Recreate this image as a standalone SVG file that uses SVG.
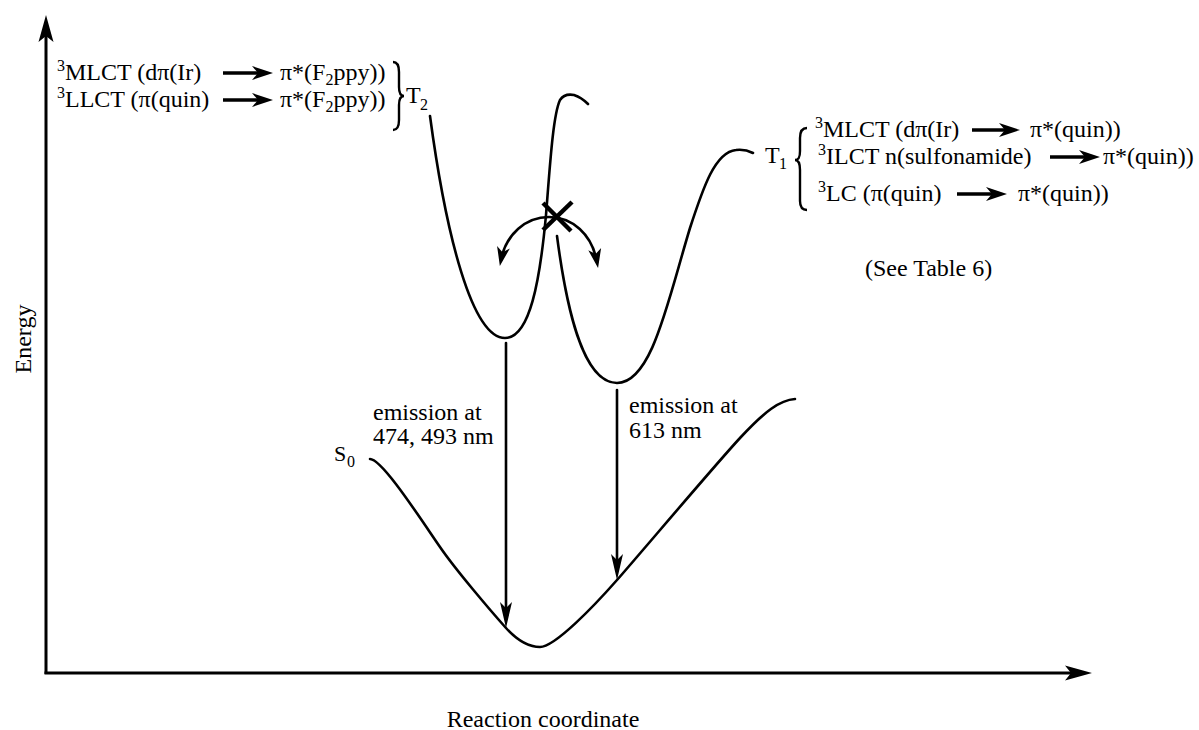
<svg xmlns="http://www.w3.org/2000/svg" width="1199" height="730" viewBox="0 0 1199 730">
<style>
text{font-family:"Liberation Serif","Times New Roman",serif;fill:#000}
.t{font-size:24px}
.sup{font-size:16px}
.ax{font-size:24px}
.line{fill:none;stroke:#000;stroke-width:2.6;stroke-linecap:round}
.axis{fill:none;stroke:#000;stroke-width:3}
.tarr{fill:none;stroke:#000;stroke-width:3.5}
.brace{fill:none;stroke:#000;stroke-width:2.4}
</style>
<defs>
<marker id="axHead" viewBox="-30 -9 32 18" refX="-10" refY="0" markerWidth="32" markerHeight="18" markerUnits="userSpaceOnUse" orient="auto">
<path d="M0,0 L-27,-7.5 L-21,0 L-27,7.5 Z" fill="#000"/>
</marker>
<marker id="emHead" viewBox="-28 -8 30 16" refX="-10" refY="0" markerWidth="30" markerHeight="16" markerUnits="userSpaceOnUse" orient="auto">
<path d="M0,0 L-26,-6 L-20,0 L-26,6 Z" fill="#000"/>
</marker>
<marker id="cHead" viewBox="-22 -8 24 16" refX="-6" refY="0" markerWidth="24" markerHeight="16" markerUnits="userSpaceOnUse" orient="auto-start-reverse">
<path d="M0,0 L-19,-6.5 L-14,0 L-19,6.5 Z" fill="#000"/>
</marker>
<marker id="tHead" viewBox="-24 -9 26 18" refX="-8" refY="0" markerWidth="26" markerHeight="18" markerUnits="userSpaceOnUse" orient="auto">
<path d="M0,0 L-21,-7 L-15,0 L-21,7 Z" fill="#000"/>
</marker>
</defs>

<g id="axes">
<line class="axis" x1="46" y1="674" x2="46" y2="25" marker-end="url(#axHead)"/>
<line class="axis" x1="44.5" y1="673" x2="1082" y2="673" marker-end="url(#axHead)"/>
<text class="ax" text-anchor="middle" transform="translate(31,339) rotate(-90)">Energy</text>
<text class="ax" x="543" y="727" text-anchor="middle">Reaction coordinate</text>
</g>

<g id="curve-T2">
<path class="line" d="M430,116 C446,235 472,338 505,338 C530,338 540,280 546,215 C550,165 553,115 560,100 C564,94 569,94 574,95 C580,97 584,100 588,104"/>
</g>

<g id="curve-T1">
<path class="line" d="M557,236 C566,305 582,383 617,383 C652,383 668,300 690,228 C703,188 715,152 736,150 C744,149 749,151 753,153"/>
</g>

<g id="curve-S0">
<path class="line" d="M370,459 C382,459 420,518 440,547 C455,569 490,610 506,628 C516,639 528,647 540,647 C555,647 595,605 617,580 C639,555 715,465 740,438 C765,411 780,400 795,399"/>
<text x="334" y="461" font-size="22">S</text>
<text class="sup" x="347" y="467">0</text>
</g>

<g id="label-T2">
<text class="t" x="57" y="80"><tspan class="sup" dy="-9">3</tspan><tspan dy="9">MLCT (dπ(Ir)</tspan></text>
<text class="t" x="280" y="80">π*(F<tspan class="sup" dy="5">2</tspan><tspan dy="-5">ppy))</tspan></text>
<text class="t" x="57" y="107"><tspan class="sup" dy="-9">3</tspan><tspan dy="9">LLCT (π(quin)</tspan></text>
<text class="t" x="280" y="107">π*(F<tspan class="sup" dy="5">2</tspan><tspan dy="-5">ppy))</tspan></text>
<path class="brace" d="M393,62 C398,62 399,66 399,72 L399,87 C399,92 400,96 404,96 C400,96 399,100 399,105 L399,120 C399,126 398,130 393,130"/>
<text class="t" x="406" y="103">T</text>
<text class="sup" x="420" y="110">2</text>
</g>

<g id="label-T1">
<text class="t" x="765" y="163">T</text>
<text class="sup" x="779" y="169">1</text>
<path class="brace" d="M807,128 C802,128 800,132 800,138 L800,151 C800,157 799,160 795,160 C799,160 800,164 800,170 L800,201 C800,207 802,210 807,210"/>
<text class="t" x="815" y="137"><tspan class="sup" dy="-9">3</tspan><tspan dy="9">MLCT (dπ(Ir)</tspan></text>
<text class="t" x="1030" y="137">π*(quin))</text>
<text class="t" x="818" y="164"><tspan class="sup" dy="-9">3</tspan><tspan dy="9">ILCT n(sulfonamide)</tspan></text>
<text class="t" x="1103" y="164">π*(quin))</text>
<text class="t" x="818" y="201"><tspan class="sup" dy="-9">3</tspan><tspan dy="9">LC (π(quin)</tspan></text>
<text class="t" x="1018" y="201">π*(quin))</text>
<text class="t" x="865" y="276">(See Table 6)</text>
</g>

<g id="emission-labels">
<text class="t" x="373" y="420">emission at</text>
<text class="t" x="373" y="444">474, 493 nm</text>
<text class="t" x="629" y="413">emission at</text>
<text class="t" x="629" y="438">613 nm</text>
</g>

<g id="crossing">
<line x1="543" y1="203" x2="571" y2="231" stroke="#000" stroke-width="4.5"/>
<line x1="572" y1="202" x2="543" y2="230" stroke="#000" stroke-width="4.5"/>
</g>

<g id="connectors">
<line class="line" x1="506" y1="343" x2="506" y2="618" marker-end="url(#emHead)"/>
<line class="line" x1="617" y1="390" x2="617" y2="570" marker-end="url(#emHead)"/>
<path class="line" d="M501,260 C506,234 526,217 549,217 C572,217 592,234 597,262" marker-start="url(#cHead)" marker-end="url(#cHead)"/>
<line class="tarr" x1="223" y1="73" x2="265" y2="73" marker-end="url(#tHead)"/>
<line class="tarr" x1="223" y1="100" x2="265" y2="100" marker-end="url(#tHead)"/>
<line class="tarr" x1="972" y1="130" x2="1012" y2="130" marker-end="url(#tHead)"/>
<line class="tarr" x1="1050" y1="157" x2="1092" y2="157" marker-end="url(#tHead)"/>
<line class="tarr" x1="957" y1="194" x2="999" y2="194" marker-end="url(#tHead)"/>
</g>
</svg>
